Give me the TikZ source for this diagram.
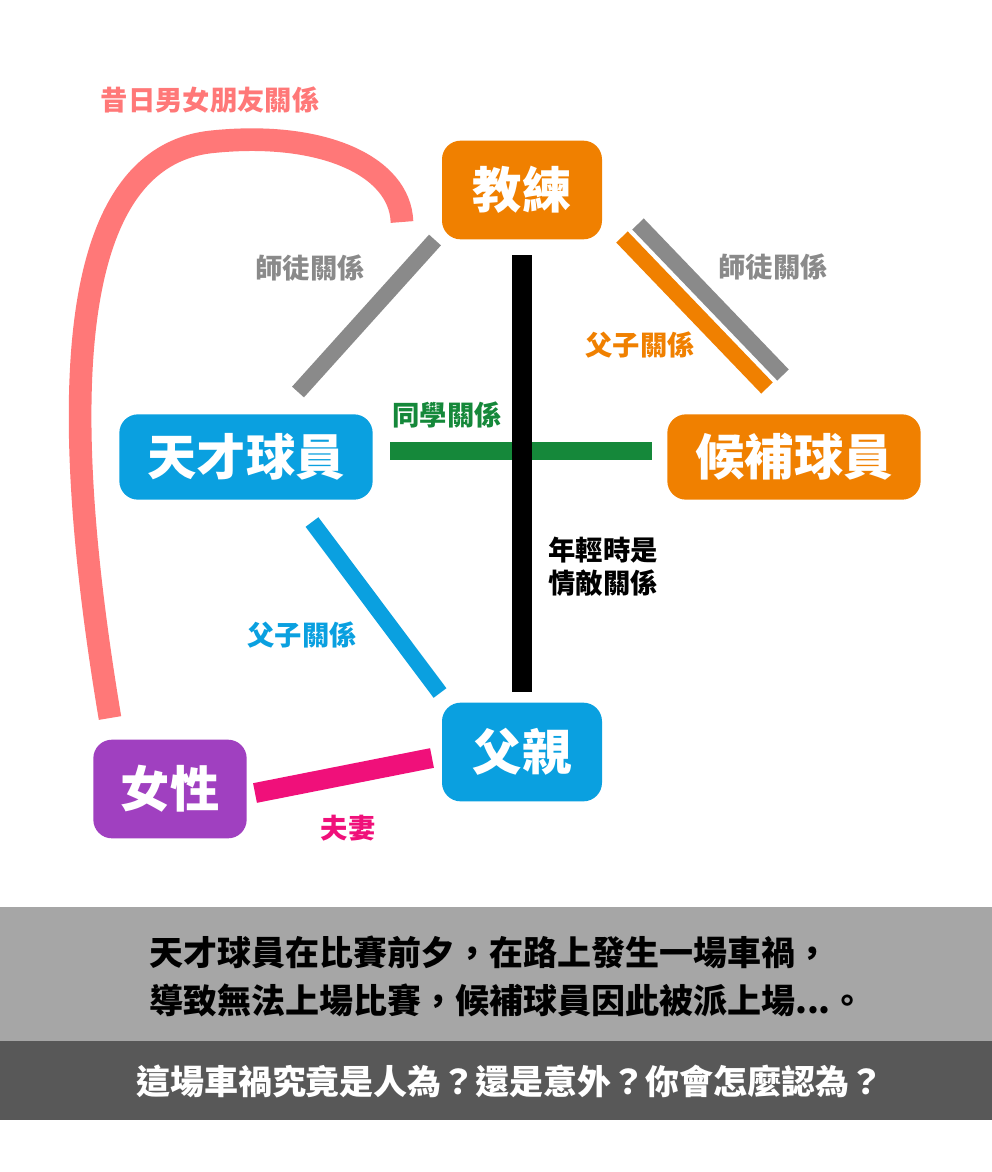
\documentclass[tikz,border=0pt]{standalone}
\usepackage{fontspec}
\setmainfont{Noto Sans CJK TC}
\definecolor{orn}{HTML}{F08000}
\definecolor{blu}{HTML}{0AA0E0}
\definecolor{pur}{HTML}{A040C0}
\definecolor{sal}{HTML}{FF7878}
\definecolor{gry}{HTML}{8A8A8A}
\definecolor{grn}{HTML}{15883A}
\definecolor{pnk}{HTML}{F0107A}
\definecolor{lband}{HTML}{A6A6A6}
\definecolor{dband}{HTML}{585858}
\begin{document}
\begin{tikzpicture}[x=0.75pt,y=-0.75pt,
  box/.style={rounded corners=14pt,text=white,font=\bfseries\fontsize{37}{40}\selectfont,inner sep=0pt},
  lab/.style={font=\bfseries\fontsize{20.5}{25}\selectfont,align=left}]
\useasboundingbox (0,0) rectangle (992,1172);
\fill[white] (0,0) rectangle (992,1172);
\node[box,fill=orn,minimum width=120pt,minimum height=74pt] (coach) at (522,190) {教練};
\node[box,fill=blu,minimum width=190pt,minimum height=64pt] (genius) at (246,457) {天才球員};
\node[box,fill=orn,minimum width=190pt,minimum height=64pt] (sub) at (794,457) {候補球員};
\node[box,fill=blu,minimum width=120pt,minimum height=74pt] (father) at (522,752) {父親};
\node[box,fill=pur,minimum width=115pt,minimum height=74pt] (woman) at (170,789) {女性};
\coordinate (c1) at (435,240); \coordinate (c2) at (298,392);
\draw[gry,line width=12pt] (c1) -- (c2);
\coordinate (v1) at (522,255); \coordinate (v2) at (522,692);
\coordinate (h1) at (390,451); \coordinate (h2) at (652,451);
\draw[grn,line width=14pt] (h1) -- (h2);
\draw[black,line width=15pt] (v1) -- (v2);
\coordinate (o1) at (622,237); \coordinate (o2) at (767,388);
\draw[orn,line width=12pt] (o1) -- (o2);
\coordinate (g1) at (638,224); \coordinate (g2) at (783,375);
\draw[gry,line width=12pt] (g1) -- (g2);
\coordinate (b1) at (312,522); \coordinate (b2) at (440,693);
\draw[blu,line width=12pt] (b1) -- (b2);
\coordinate (p1) at (255,793); \coordinate (p2) at (432,758);
\draw[pnk,line width=15pt] (p1) -- (p2);
\coordinate (s1) at (110,718); \coordinate (s2) at (402,222);
\draw[sal,line width=17pt] (s1) .. controls (60,420) and (60,160) .. (210,142) .. controls (320,130) and (400,165) .. (s2);
\node[lab,text=sal] (l1) at (210,100) {昔日男女朋友關係};
\node[lab,text=gry] (l2) at (310,268) {師徒關係};
\node[lab,text=gry] (l3) at (773,267) {師徒關係};
\node[lab,text=orn] (l4) at (640,345) {父子關係};
\node[lab,text=grn] (l5) at (447,415) {同學關係};
\node[lab,text=black] (l6) at (603,567) {年輕時是\\情敵關係};
\node[lab,text=blu] (l7) at (302,635) {父子關係};
\node[lab,text=pnk] (l8) at (348,828) {夫妻};
\fill[lband] (0,907) rectangle (992,1041);
\fill[dband] (0,1041) rectangle (992,1120);
\node[font=\bfseries\fontsize{25.5}{36}\selectfont,align=left] (t1) at (507,976) {天才球員在比賽前夕，在路上發生一場車禍，\\導致無法上場比賽，候補球員因此被派上場...。};
\node[font=\bfseries\fontsize{25.5}{30}\selectfont,text=white] (t2) at (510,1081) {這場車禍究竟是人為？還是意外？你會怎麼認為？};
\end{tikzpicture}
\end{document}
